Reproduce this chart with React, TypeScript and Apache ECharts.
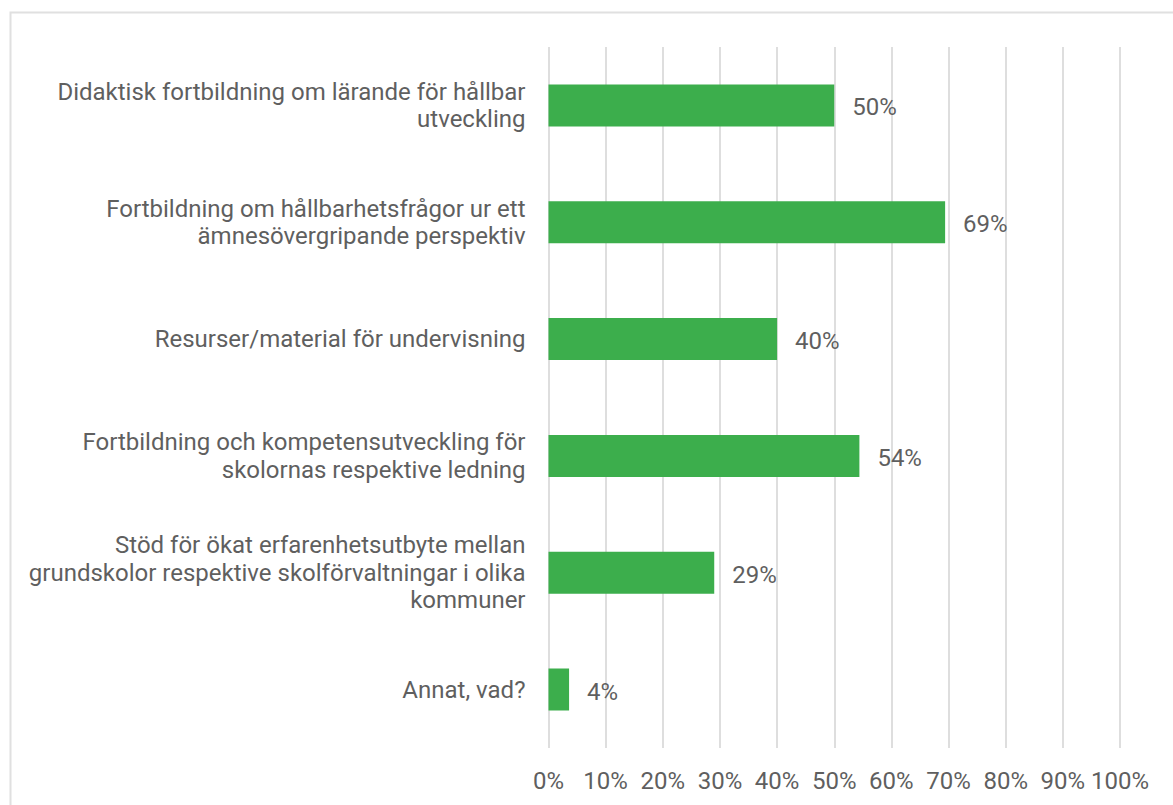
import React, { useEffect, useRef } from "react";
import * as echarts from "echarts";

const categories = [
  "Didaktisk fortbildning om lärande för hållbar\nutveckling",
  "Fortbildning om hållbarhetsfrågor ur ett\nämnesövergripande perspektiv",
  "Resurser/material för undervisning",
  "Fortbildning och kompetensutveckling för\nskolornas respektive ledning",
  "Stöd för ökat erfarenhetsutbyte mellan\ngrundskolor respektive skolförvaltningar i olika\nkommuner",
  "Annat, vad?",
];
const values = [50, 69.4, 40, 54.4, 29, 3.6];

export default function App() {
  const ref = useRef<HTMLDivElement>(null);
  useEffect(() => {
    if (!ref.current) return;
    const chart = echarts.init(ref.current, null, { renderer: "svg" });
    chart.setOption({
      animation: false,
      textStyle: { fontFamily: "Roboto" },
      graphic: [
        {
          type: "rect",
          shape: { x: 10.5, y: 12.5, width: 1300, height: 1000 },
          style: { fill: "none", stroke: "#e0e0e0", lineWidth: 2 },
          silent: true,
        },
      ],
      grid: { left: 548.5, right: 53, top: 47, bottom: 57, containLabel: false },
      xAxis: {
        type: "value",
        min: 0,
        max: 100,
        interval: 10,
        axisLine: { show: false },
        axisTick: { show: false },
        splitLine: { lineStyle: { color: "#dedede", width: 2 } },
        axisLabel: {
          formatter: "{value}%",
          color: "#5f5f5f",
          fontSize: 24,
          fontFamily: "Roboto",
          margin: 21,
        },
      },
      yAxis: {
        type: "category",
        inverse: true,
        data: categories,
        axisLine: { show: false },
        axisTick: { show: false },
        axisLabel: {
          color: "#5f5f5f",
          fontSize: 24,
          fontFamily: "Roboto",
          lineHeight: 27.5,
          margin: 23,
          align: "right",
        },
      },
      series: [
        {
          type: "bar",
          data: values,
          barWidth: 42,
          itemStyle: { color: "#3cae4c" },
          label: {
            show: true,
            position: "right",
            distance: 18,
            offset: [0, 2],
            formatter: (p: any) => Math.round(p.value) + "%",
            color: "#5f5f5f",
            fontSize: 24,
            fontFamily: "Roboto",
          },
        },
      ],
    });
    return () => chart.dispose();
  }, []);
  return (
    <div
      ref={ref}
      style={{ position: "absolute", left: 0, top: 0, width: 1173, height: 805 }}
    />
  );
}
